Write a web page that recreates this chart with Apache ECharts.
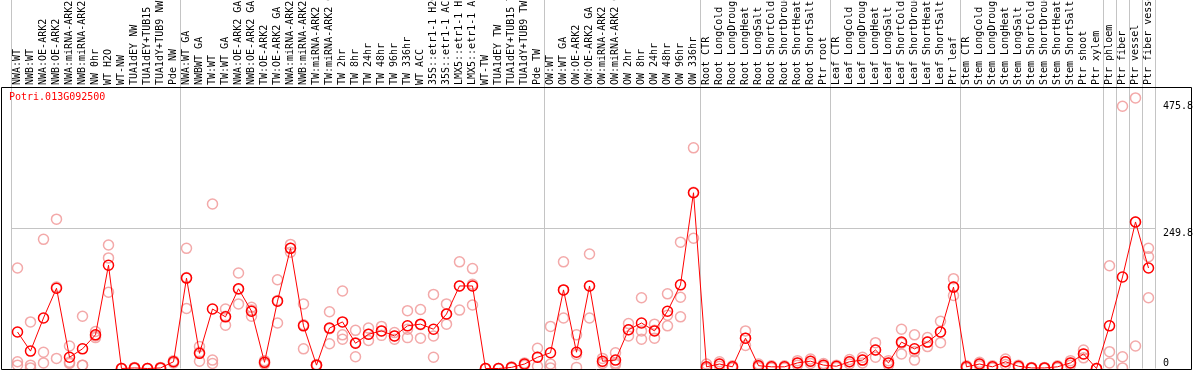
<!DOCTYPE html>
<html><head><meta charset="utf-8">
<script src="https://cdn.jsdelivr.net/npm/echarts@6/dist/echarts.min.js"></script>
<style>html,body{margin:0;padding:0;background:#fff}#c{width:1194px;height:370px}</style>
</head><body><div id="c"></div>
<script>
const geneName = 'Potri.013G092500';
const categories = [
'NWA:WT','NWB:WT','NWA:OE-ARK2','NWB:OE-ARK2','NWA:miRNA-ARK2','NWB:miRNA-ARK2','NW 0hr','WT H2O','WT-NW','TUA1dEY NW','TUA1dEY+TUB15 NW','TUA1dY+TUB9 NW','Pde NW',
'NWA:WT GA','NWBWT GA','TW:WT','TW:WT GA','NWA:OE-ARK2 GA','NWB:OE-ARK2 GA','TW:OE-ARK2','TW:OE-ARK2 GA','NWA:miRNA-ARK2 GA','NWB:miRNA-ARK2 GA','TW:miRNA-ARK2','TW:miRNA-ARK2 GA','TW 2hr','TW 8hr','TW 24hr','TW 48hr','TW 96hr','TW 336hr','WT ACC','35S::etr1-1 H2O','35S::etr1-1 ACC','LMX5::etr1-1 H2O','LMX5::etr1-1 ACC','WT-TW','TUA1dEY TW','TUA1dEY+TUB15 TW','TUA1dY+TUB9 TW','Pde TW',
'OW:WT','OW:WT GA','OW:OE-ARK2','OW:OE-ARK2 GA','OW:miRNA-ARK2','OW:miRNA-ARK2 GA','OW 2hr','OW 8hr','OW 24hr','OW 48hr','OW 96hr','OW 336hr',
'Root CTR','Root LongCold','Root LongDrought','Root LongHeat','Root LongSalt','Root ShortCold','Root ShortDrought','Root ShortHeat','Root ShortSalt','Ptr root',
'Leaf CTR','Leaf LongCold','Leaf LongDrought','Leaf LongHeat','Leaf LongSalt','Leaf ShortCold','Leaf ShortDrought','Leaf ShortHeat','Leaf ShortSalt','Ptr leaf',
'Stem CTR','Stem LongCold','Stem LongDrought','Stem LongHeat','Stem LongSalt','Stem ShortCold','Stem ShortDrought','Stem ShortHeat','Stem ShortSalt','Ptr shoot','Ptr xylem',
'Ptr phloem','Ptr fiber','Ptr vessel','Ptr fiber vessel'];

const meanValues = [
65,31,90,143,20,35,60,184,0,1,0,1,12,
161,27,106,92,142,102,11,120,214,76,6,72,83,45,61,67,58,76,79,70,97,147,147,0,0,2,8,20,
28,140,29,147,13,15,69,81,67,102,149,313,
3,8,3,54,5,3,3,10,13,6,
4,12,15,33,10,47,35,47,65,145,
3,8,3,12,4,1,1,3,10,26,0,
76,163,261,179];

const rep1 = [
179,83,230,266,40,93,66,220,0,2,0,2,14,
214,39,293,106,170,109,14,158,221,115,7,101,138,68,72,75,64,103,105,132,115,190,178,0,0,3,10,36,
75,190,60,204,18,28,80,126,79,133,225,393,
8,12,5,67,8,5,5,14,17,9,
6,16,20,46,14,70,60,55,84,160,
5,11,5,17,6,2,2,5,14,33,0,
183,467,482,214];
const rep2 = [
12,6,29,145,11,6,58,197,0,1,0,1,12,
162,29,15,93,141,104,10,121,214,78,6,71,60,46,61,67,58,70,78,58,97,147,150,0,0,2,8,20,
8,140,25,147,12,10,69,67,68,95,127,314,
1,8,3,54,5,3,3,10,13,6,
4,12,15,33,10,45,30,47,65,145,
3,8,3,12,4,1,1,3,10,26,0,
30,21,261,199];
const rep3 = [
6,1,10,18,9,6,55,136,0,0,0,0,10,
107,13,9,77,115,93,8,81,207,35,5,44,52,21,50,59,52,55,54,20,79,104,113,0,0,1,6,4,
1,90,2,90,9,7,58,52,54,76,92,232,
0,4,1,41,2,1,1,6,9,3,
2,8,10,20,6,26,15,39,46,130,
1,5,1,7,2,0,0,1,6,19,0,
10,1,40,126];

const yTickValues = [0, 249.8, 475.8];
const yMax = 499.6;
const groupStarts = [0, 13, 41, 53, 63, 73, 84, 85, 86, 87];

const monoFont = 'DejaVu Sans Mono';
const repData = [];
[rep1, rep2, rep3].forEach(r => r.forEach((v, i) => repData.push([i, v])));

const chart = echarts.init(document.getElementById('c'), null, {renderer: 'canvas'});
const splitLineCfg = {show: true, interval: (i) => groupStarts.includes(i), lineStyle: {color: '#c4c4c4', width: 1}};
chart.setOption({
  animation: false,
  backgroundColor: '#fff',
  title: {text: geneName, left: 4, top: 87, textStyle: {color: '#ff0000', fontSize: 10, fontWeight: 'normal', fontFamily: monoFont}},
  grid: [
    {left: 11, right: 39, top: 88, bottom: 1.5, containLabel: false, outerBoundsMode: 'none'},
    {left: 11, right: 39, top: 0, height: 88, containLabel: false, outerBoundsMode: 'none'}
  ],
  xAxis: [
    {type: 'category', gridIndex: 0, data: categories, position: 'top', boundaryGap: true,
     axisLine: {show: false}, axisTick: {show: false},
     axisLabel: {interval: 0, rotate: 90, fontSize: 10, fontFamily: monoFont, color: '#000', margin: 3},
     splitLine: splitLineCfg},
    {type: 'category', gridIndex: 1, data: categories, boundaryGap: true,
     axisLine: {show: false}, axisTick: {show: false}, axisLabel: {show: false},
     splitLine: splitLineCfg}
  ],
  yAxis: [
    {type: 'value', gridIndex: 0, position: 'right', min: 0, max: yMax,
     axisLine: {show: false}, axisTick: {show: false}, splitLine: {show: false},
     axisLabel: {customValues: yTickValues.slice(1), verticalAlign: 'top', fontSize: 10, fontFamily: monoFont, color: '#000', margin: 8, formatter: v => String(v)}},
    {type: 'value', gridIndex: 0, position: 'right', min: 0, max: yMax,
     axisLine: {show: false}, axisTick: {show: false}, splitLine: {show: false},
     axisLabel: {customValues: yTickValues.slice(0, 1), verticalAlign: 'bottom', fontSize: 10, fontFamily: monoFont, color: '#000', margin: 8, formatter: v => String(v)}},
    {type: 'value', gridIndex: 1, show: false}
  ],
  graphic: [
    {type: 'rect', silent: true, z: 100, shape: {x: 1.5, y: 87.5, width: 1190, height: 282}, style: {fill: null, stroke: '#000', lineWidth: 1}}
  ],
  series: [
    {type: 'scatter', xAxisIndex: 0, yAxisIndex: 0, data: repData, symbol: 'circle', symbolSize: 10, z: 2,
     itemStyle: {color: 'rgba(0,0,0,0)', borderColor: '#f09494', borderWidth: 1.5}},
    {type: 'line', xAxisIndex: 0, yAxisIndex: 0, data: meanValues, symbol: 'circle', symbolSize: 10, z: 3,
     showAllSymbol: true,
     lineStyle: {color: '#ff0000', width: 1},
     itemStyle: {color: 'rgba(0,0,0,0)', borderColor: '#ff0000', borderWidth: 1.5},
     markLine: {silent: true, symbol: 'none', label: {show: false}, z: 1,
       lineStyle: {color: '#c4c4c4', type: 'solid', width: 1}, data: [{yAxis: yTickValues[1]}]}}
  ]
});
</script></body></html>
